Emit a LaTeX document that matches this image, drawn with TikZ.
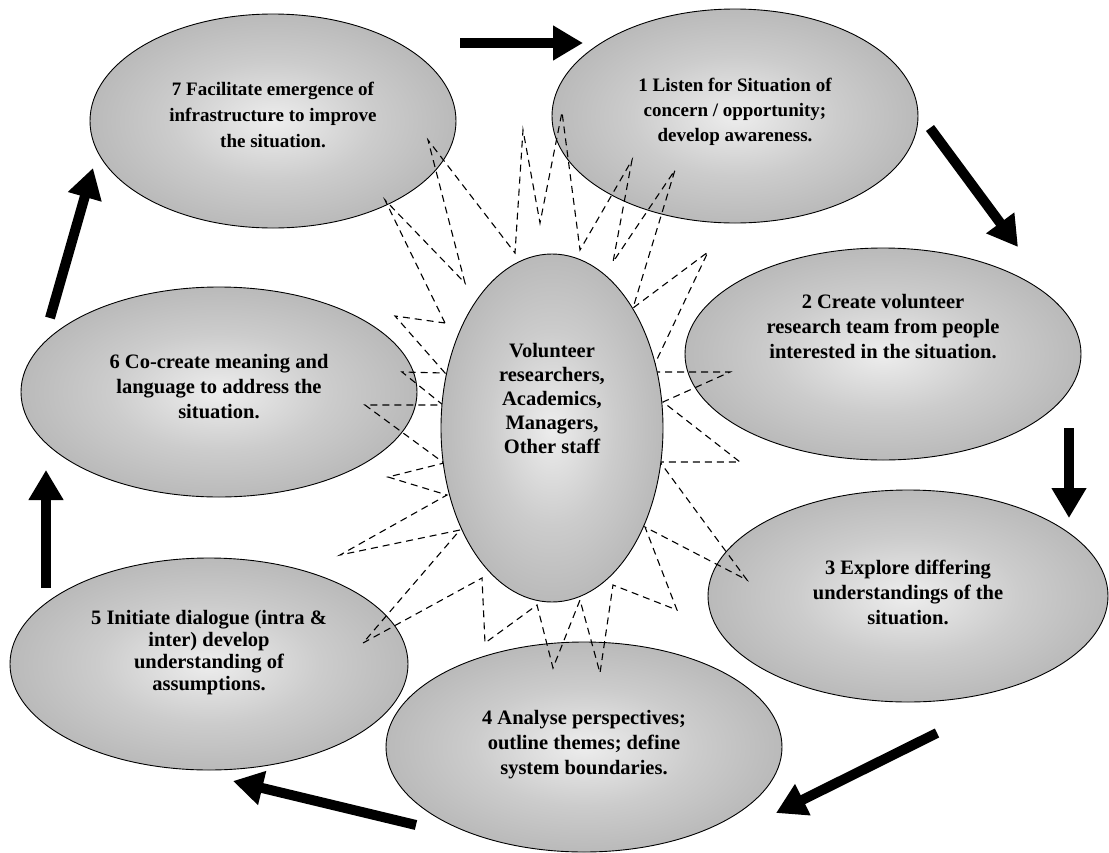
\documentclass[tikz,border=0pt]{standalone}
\usepackage{fontspec}
\setmainfont{Liberation Serif}
\usetikzlibrary{arrows.meta,shapes.geometric}
% grey "ball" shading for the stage ellipses: light core, dark rim
\pgfdeclareradialshading{stageshade}{\pgfpoint{0bp}{0bp}}{%
  color(0bp)=(gray!14); color(14bp)=(gray!40); color(34bp)=(gray!66); color(50bp)=(gray!85)}

\begin{document}
\begin{tikzpicture}[x=1pt,y=-1pt,
  stage/.style={ellipse, draw=black, line width=0.9pt, shading=stageshade, inner sep=0pt},
  stagetext/.style={align=center, inner sep=0pt, font=\bfseries\fontsize{20.5}{25}\selectfont},
  flow/.style={line width=10pt, -{Triangle[length=30pt,width=33pt]}},
  burst/.style={dash pattern=on 7pt off 5pt, line width=1.1pt}]

\useasboundingbox (0,0) rectangle (1109,852);

% outer stages
\node[stage, minimum width=366pt, minimum height=214pt] (s7) at (273,121) {};
\node[stage, minimum width=366pt, minimum height=214pt] (s1) at (735,116) {};
\node[stage, minimum width=396pt, minimum height=212pt] (s2) at (883,354) {};
\node[stage, minimum width=400pt, minimum height=212pt] (s3) at (908,596) {};
\node[stage, minimum width=396pt, minimum height=210pt] (s4) at (584,747) {};
\node[stage, minimum width=398pt, minimum height=212pt] (s5) at (209,664) {};
\node[stage, minimum width=396pt, minimum height=210pt] (s6) at (219,392) {};

% dashed starburst round the centre
\draw[burst] (445,323) -- (385,200) -- (465,283) -- (428,140) -- (515,253) -- (523,130)
  -- (540,223) -- (562,112) -- (580,250) -- (632,160) -- (613,262) -- (675,170)
  -- (633,308) -- (708,252) -- (651,372) -- (730,372) -- (663,402) -- (740,462)
  -- (660,462) -- (747,580) -- (645,527) -- (677,610) -- (613,585) -- (600,673)
  -- (580,600) -- (553,668) -- (537,605) -- (485,643) -- (482,578) -- (363,643)
  -- (460,530) -- (340,555) -- (447,495) -- (388,477) -- (444,463) -- (365,405)
  -- (443,405) -- (402,372) -- (445,373) -- (395,316) -- cycle;

% centre
\node[stage, minimum width=222pt, minimum height=348pt] (hub) at (552,428) {};

% texts
\node[stagetext, font=\bfseries\fontsize{19}{26}\selectfont] (t7) at (273,115) {7 Facilitate emergence of\\infrastructure to improve\\the situation.};
\node[stagetext, font=\bfseries\fontsize{19}{25}\selectfont] (t1) at (735,112) {1 Listen for Situation of\\concern / opportunity;\\develop awareness.};
\node[stagetext] (t2) at (883,327) {2 Create volunteer\\research team from people\\interested in the situation.};
\node[stagetext] (t3) at (908,592) {3 Explore differing\\understandings of the\\situation.};
\node[stagetext] (t4) at (584,745) {4 Analyse perspectives;\\outline themes; define\\system boundaries.};
\node[stagetext, font=\bfseries\fontsize{20.5}{22}\selectfont] (t5) at (209,653) {5 Initiate dialogue (intra \&\\inter) develop\\understanding of\\assumptions.};
\node[stagetext] (t6) at (219,387) {6 Co-create meaning and\\language to address the\\situation.};
\node[stagetext, font=\bfseries\fontsize{20.5}{24}\selectfont] (th) at (552,398) {Volunteer\\researchers,\\Academics,\\Managers,\\Other staff};

% cycle arrows
\coordinate (a7s) at (460,43);  \coordinate (a7e) at (583,43);
\coordinate (a1s) at (930,128); \coordinate (a1e) at (1018,247);
\coordinate (a2s) at (1069,428); \coordinate (a2e) at (1069,518);
\coordinate (a3s) at (937,733); \coordinate (a3e) at (776,813);
\coordinate (a4s) at (416,825); \coordinate (a4e) at (233,781);
\coordinate (a5s) at (46,588);  \coordinate (a5e) at (46,470);
\coordinate (a6s) at (50,318);  \coordinate (a6e) at (93,168);
\draw[flow] (a7s) -- (a7e);
\draw[flow] (a1s) -- (a1e);
\draw[flow] (a2s) -- (a2e);
\draw[flow] (a3s) -- (a3e);
\draw[flow] (a4s) -- (a4e);
\draw[flow] (a5s) -- (a5e);
\draw[flow] (a6s) -- (a6e);
\end{tikzpicture}
\end{document}
